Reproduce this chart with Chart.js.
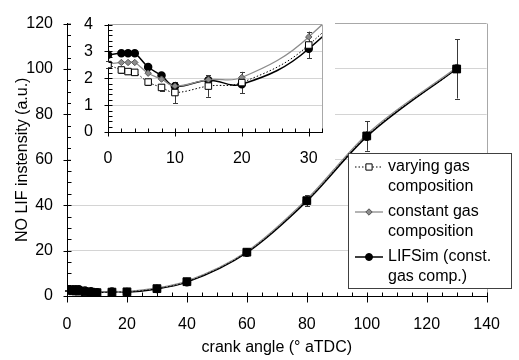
<!DOCTYPE html>
<html>
<head>
<meta charset="utf-8">
<script src="https://cdn.jsdelivr.net/npm/chart.js@4.4.1/dist/chart.umd.min.js"></script>
<style>
  body { margin: 0; background: #fff; }
  #wrap { position: relative; width: 519px; height: 360px; }
  #main { position: absolute; left: 0; top: 0; }
  #inset { position: absolute; left: 71px; top: 0; background: #fff; }
</style>
</head>
<body>
<div id="wrap">
  <canvas id="main" width="519" height="360"></canvas>
  <canvas id="inset" width="264" height="168"></canvas>
</div>
<script>
// data
const crankAngle = [0, 2, 3, 4, 6, 8, 10, 15, 20, 30, 40, 60, 80, 100, 130];
const varyingGas = [2.51, 2.31, 2.25, 2.22, 1.86, 1.66, 1.47, 1.71, 1.84, 3.24, 6.3, 19.3, 42.0, 70.5, 100.0];
const varyingErr = [0.12, 0.1, 0.1, 0.1, 0.12, 0.12, 0.4, 0.4, 0.4, 0.5, 0.9, 1.2, 2.5, 6.5, 13];
const constantGas = [2.53, 2.59, 2.59, 2.59, 2.19, 1.97, 1.71, 1.95, 2.03, 3.54, 6.6, 19.6, 42.6, 71.2, 100.6];
const lifSim = [2.88, 2.93, 2.93, 2.93, 2.42, 2.1, 1.7, 1.93, 1.78, 3.1, 6.1, 19.1, 41.8, 70.2, 100.2];
const legendLabels = [
  ["varying gas", "composition"],
  ["constant gas", "composition"],
  ["LIFSim (const.", "gas comp.)"],
];

Chart.defaults.font.family = "'Liberation Sans', Arial, sans-serif";
Chart.defaults.font.size = 16;
Chart.defaults.color = "#000";

const pts = (arr) => crankAngle.map((x, i) => ({ x: x, y: arr[i] }));

function makeDatasets(isMain) {
  const curve = isMain ? { cubicInterpolationMode: "monotone" } : { tension: 0.4 };
  return [
    {
      data: pts(varyingGas),
      borderColor: "#000",
      borderWidth: 1,
      borderDash: [1.5, 2],
      pointStyle: "rect",
      pointRadius: isMain ? 5.5 : 4.6,
      pointBackgroundColor: isMain ? "#000" : "#fff",
      pointBorderColor: "#000",
      pointBorderWidth: 1,
      ...curve,
    },
    {
      data: pts(constantGas),
      borderColor: "#8c8c8c",
      borderWidth: 1.3,
      pointStyle: "rectRot",
      pointRadius: 3.2,
      pointBackgroundColor: "#8c8c8c",
      pointBorderColor: "#555",
      pointBorderWidth: 1,
      ...curve,
    },
    {
      data: pts(lifSim),
      borderColor: "#000",
      borderWidth: 1.5,
      pointStyle: "circle",
      pointRadius: 3.5,
      pointBackgroundColor: "#000",
      pointBorderColor: "#000",
      ...curve,
    },
  ];
}

// legend sample markers (open square in the legend)
const legendMarks = [
  { style: "rect", r: 4.4, fill: "#fff", stroke: "#000" },
  { style: "rectRot", r: 3.2, fill: "#8c8c8c", stroke: "#555" },
  { style: "circle", r: 3.5, fill: "#000", stroke: "#000" },
];

// minor/major tick marks, right border, error bars, legend
const deco = {
  id: "deco",
  beforeDatasetsDraw(chart, args, o) {
    const { ctx, chartArea: a, scales: { x, y } } = chart;
    ctx.save();
    ctx.lineWidth = 1;
    ctx.strokeStyle = "#a8a8a8";
    ctx.beginPath();
    ctx.moveTo(Math.round(a.right) + 0.5, a.top);
    ctx.lineTo(Math.round(a.right) + 0.5, a.bottom);
    ctx.stroke();

    ctx.strokeStyle = "#3a3a3a";
    crankAngle.forEach((v, i) => {
      if (v > x.max) return;
      const px = Math.round(x.getPixelForValue(v)) + 0.5;
      const lo = y.getPixelForValue(varyingGas[i] - varyingErr[i]);
      const hi = y.getPixelForValue(varyingGas[i] + varyingErr[i]);
      ctx.beginPath();
      ctx.moveTo(px, lo);
      ctx.lineTo(px, hi);
      ctx.moveTo(px - o.cap, Math.round(lo) + 0.5);
      ctx.lineTo(px + o.cap, Math.round(lo) + 0.5);
      ctx.moveTo(px - o.cap, Math.round(hi) + 0.5);
      ctx.lineTo(px + o.cap, Math.round(hi) + 0.5);
      ctx.stroke();
    });
    ctx.restore();
  },
  afterDraw(chart, args, o) {
    const { ctx, chartArea: a, scales: { x, y } } = chart;
    ctx.save();
    ctx.strokeStyle = "#000";
    ctx.lineWidth = 1;
    ctx.beginPath();
    const bx = Math.round(a.bottom) + 0.5;
    for (let v = x.min; v <= x.max + 1e-9; v += o.xMinor) {
      const px = Math.round(x.getPixelForValue(v)) + 0.5;
      const major = Math.abs(v / o.xMajor - Math.round(v / o.xMajor)) < 1e-6;
      ctx.moveTo(px, bx - 4);
      ctx.lineTo(px, major ? bx + o.xOut : bx);
    }
    const lx = Math.round(a.left) + 0.5;
    for (let v = y.min; v <= y.max + 1e-9; v += o.yMinor) {
      const py = Math.round(y.getPixelForValue(v)) + 0.5;
      const major = Math.abs(v / o.yMajor - Math.round(v / o.yMajor)) < 1e-6;
      ctx.moveTo(lx + 4, py);
      ctx.lineTo(major ? lx - 4 : lx, py);
    }
    ctx.stroke();

    if (o.legend) {
      const L = o.legend;
      ctx.fillStyle = "#fff";
      ctx.fillRect(L.x, L.y, L.w, L.h);
      ctx.strokeStyle = "#404040";
      ctx.strokeRect(L.x + 0.5, L.y + 0.5, L.w, L.h);
      ctx.font = "16px 'Liberation Sans', Arial, sans-serif";
      ctx.textBaseline = "middle";
      legendLabels.forEach((lines, k) => {
        const ds = chart.data.datasets[k];
        const m = legendMarks[k];
        const ly = L.rows[k * 2];
        ctx.save();
        ctx.strokeStyle = ds.borderColor;
        ctx.lineWidth = ds.borderWidth;
        ctx.setLineDash(ds.borderDash || []);
        ctx.beginPath();
        ctx.moveTo(L.x + 7, ly);
        ctx.lineTo(L.x + 35, ly);
        ctx.stroke();
        ctx.restore();
        ctx.save();
        ctx.fillStyle = m.fill;
        ctx.strokeStyle = m.stroke;
        ctx.lineWidth = 1;
        Chart.helpers.drawPoint(ctx, { pointStyle: m.style, radius: m.r, borderWidth: 1 }, L.x + 21, ly);
        ctx.restore();
        ctx.fillStyle = "#000";
        lines.forEach((t, j) => {
          ctx.fillText(t, L.x + 40, L.rows[k * 2 + j]);
        });
      });
    }
    ctx.restore();
  },
};

new Chart(document.getElementById("main"), {
  type: "line",
  data: { datasets: makeDatasets(true) },
  options: {
    responsive: false,
    animation: false,
    layout: { padding: { top: 19, right: 16, left: 0, bottom: 0 } },
    plugins: {
      legend: { display: false },
      tooltip: { enabled: false },
      deco: {
        xMinor: 5, xMajor: 20, xOut: 6, yMinor: 5, yMajor: 20, cap: 2.5,
        legend: { x: 348, y: 153, w: 163, h: 135, rows: [167, 187, 212, 232, 257, 277] },
      },
    },
    scales: {
      x: {
        type: "linear",
        min: 0,
        max: 140,
        ticks: { stepSize: 20, padding: 19 },
        grid: { color: "rgba(0,0,0,0)", drawTicks: false },
        border: { color: "#000", width: 1 },
        title: { display: true, text: "crank angle (° aTDC)", padding: { top: 0, bottom: 3 } },
        afterFit: (s) => { s.height = 64; },
      },
      y: {
        min: 0,
        max: 120,
        ticks: { stepSize: 20, padding: 14 },
        grid: {
          drawTicks: false,
          color: (c) => (c.tick.value === 0 ? "rgba(0,0,0,0)" : c.tick.value === 120 ? "#a8a8a8" : "#d4d4d4"),
        },
        border: { color: "#000", width: 1 },
        title: { display: true, text: "NO LIF instensity (a.u.)", padding: { top: 13, bottom: 0 } },
        afterFit: (s) => { s.width = 67; },
      },
    },
  },
  plugins: [deco],
});

new Chart(document.getElementById("inset"), {
  type: "line",
  data: { datasets: makeDatasets(false) },
  options: {
    responsive: false,
    animation: false,
    layout: { padding: { top: 13, right: 6, left: 0, bottom: 0 } },
    plugins: {
      legend: { display: false },
      tooltip: { enabled: false },
      deco: { xMinor: 2, xMajor: 10, xOut: 4, yMinor: 0.2, yMajor: 1, cap: 2.5 },
    },
    scales: {
      x: {
        type: "linear",
        min: 0,
        max: 32,
        ticks: { stepSize: 10, padding: 17, includeBounds: false },
        grid: { color: "rgba(0,0,0,0)", drawTicks: false },
        border: { color: "#000", width: 1 },
        afterFit: (s) => { s.height = 36; },
      },
      y: {
        min: 0,
        max: 4,
        ticks: { stepSize: 1, padding: 15 },
        grid: {
          drawTicks: false,
          color: (c) => (c.tick.value === 0 ? "rgba(0,0,0,0)" : c.tick.value === 4 ? "#a8a8a8" : "#d4d4d4"),
        },
        border: { color: "#000", width: 1 },
        afterFit: (s) => { s.width = 37; },
      },
    },
  },
  plugins: [deco],
});
</script>
</body>
</html>
